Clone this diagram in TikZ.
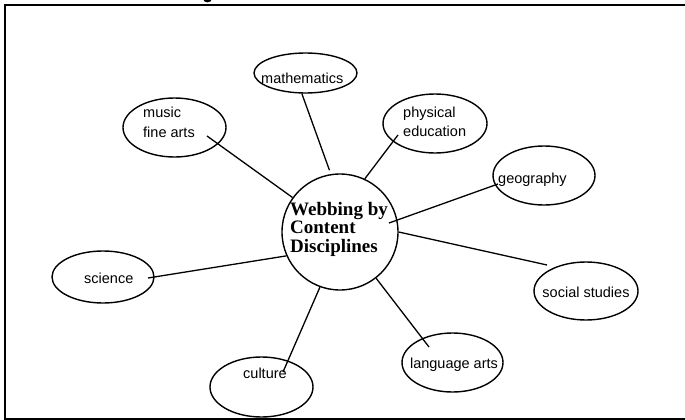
\documentclass[tikz,border=0pt]{standalone}
\usepackage{fontspec}
\setmainfont{Liberation Serif}
\newfontfamily\labelfont{Liberation Sans}
\usetikzlibrary{shapes.geometric}

\begin{document}
\begin{tikzpicture}[x=1pt,y=-1pt,
  bubble/.style={draw, ellipse, line width=1.4pt, inner sep=0pt},
  hub/.style={draw, circle, line width=1.4pt, minimum size=116pt, inner sep=0pt},
  lbl/.style={inner sep=0pt, font=\labelfont\fontsize{14.5}{18}\selectfont},
  hubtext/.style={inner sep=0pt, align=left, font=\bfseries\fontsize{19}{18.5}\selectfont},
  link/.style={line width=1.3pt},
  frame/.style={line width=2.3pt}]
\useasboundingbox (0,0) rectangle (685,420);

% open frame, right side runs off the page
\draw[frame] (690,5) -- (5,5) -- (5,419) -- (690,419);
% descender of a glyph cut by the top edge
\fill (203,-1) .. controls (204,3.5) and (211,3.5) .. (212,-1) -- cycle;

% central hub
\node[hub] (web) at (340,232) {};
\node[hubtext] (webtext) at (339,229) {Webbing by\\Content\\Disciplines};

% subject bubbles
\node[bubble, minimum width=103pt, minimum height=40pt] (math) at (305.5,73) {};
\node[bubble, minimum width=103pt, minimum height=59pt] (music) at (174.5,127.5) {};
\node[bubble, minimum width=104pt, minimum height=59pt] (phys) at (435,123.5) {};
\node[bubble, minimum width=102pt, minimum height=59pt] (geo) at (544,175.5) {};
\node[bubble, minimum width=104pt, minimum height=58pt] (social) at (586,291) {};
\node[bubble, minimum width=101pt, minimum height=59pt] (lang) at (452.5,362.5) {};
\node[bubble, minimum width=103pt, minimum height=60pt] (culture) at (261.5,387) {};
\node[bubble, minimum width=102pt, minimum height=52pt] (sci) at (103,277) {};

% bubble labels
\node[lbl, anchor=base west] (math-t) at (261,83) {mathematics};
\node[lbl, anchor=base west] (music-t1) at (143,117) {music};
\node[lbl, anchor=base west] (music-t2) at (143,137) {fine arts};
\node[lbl, anchor=base west] (phys-t1) at (403,117) {physical};
\node[lbl, anchor=base west] (phys-t2) at (403,136) {education};
\node[lbl, anchor=base west] (geo-t) at (498,183) {geography};
\node[lbl, anchor=base] (social-t) at (586,297.5) {social studies};
\node[lbl, anchor=base] (lang-t) at (454,368) {language arts};
\node[lbl, anchor=base west] (culture-t) at (243,378) {culture};
\node[lbl, anchor=base west] (sci-t) at (84,283) {science};

% loose connector ends
\coordinate (music-end) at (207,136);
\coordinate (phys-end) at (398,135);
\coordinate (geo-end) at (498,184);
\coordinate (hub-geo) at (389,223);
\coordinate (social-end) at (547,265);
\coordinate (lang-end) at (429,347);
\coordinate (culture-end) at (283,372);
\coordinate (sci-end) at (148,278);

% spokes
\draw[link, shorten >=4pt] (math.-100) -- (web.99);
\draw[link] (music-end) -- (web.144);
\draw[link] (phys-end) -- (web.65);
\draw[link] (geo-end) -- (hub-geo);
\draw[link] (web.0) -- (social-end);
\draw[link] (web.-52) -- (lang-end);
\draw[link] (web.-110) -- (culture-end);
\draw[link] (web.-156) -- (sci-end);
\end{tikzpicture}
\end{document}
